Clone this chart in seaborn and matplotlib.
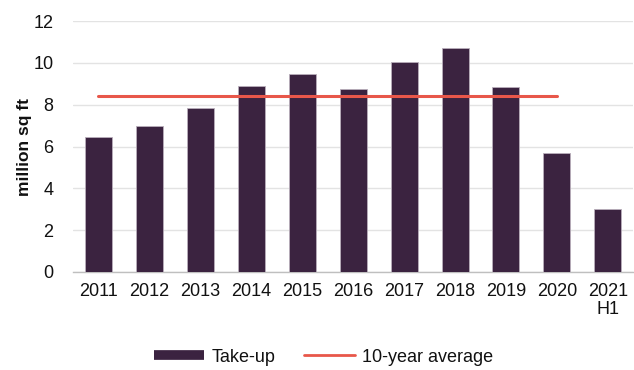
import matplotlib
matplotlib.use("Agg")
import matplotlib.pyplot as plt
import seaborn as sns
import numpy as np
import pandas as pd
from matplotlib.lines import Line2D

categories = ["2011", "2012", "2013", "2014", "2015", "2016", "2017", "2018", "2019", "2020", "2021\nH1"]
take_up = [6.46, 6.98, 7.85, 8.9, 9.48, 8.75, 10.05, 10.72, 8.85, 5.68, 3.0]
avg_value = 8.43
avg_categories = categories[:10]
y_ticks = [0, 2, 4, 6, 8, 10, 12]

bar_color = "#3B2340"
line_color = "#E8574A"
fs = 13

sns.set_theme(style="white")
plt.rcParams["font.family"] = ["Liberation Sans", "DejaVu Sans"]

fig = plt.figure(figsize=(6.34, 3.70), dpi=100)
ax = fig.add_axes([0.115, 0.265, 0.884, 0.678])

df = pd.DataFrame({"year": categories, "value": take_up})
sns.barplot(data=df, x="year", y="value", color=bar_color, saturation=1,
            width=0.53, edgecolor="#b9aebb", linewidth=0.6, ax=ax, zorder=3)

avg_df = pd.DataFrame({"pos": np.arange(len(avg_categories)), "avg": [avg_value] * len(avg_categories)})
sns.lineplot(data=avg_df, x="pos", y="avg", color=line_color, linewidth=2.2, ax=ax, zorder=4)

ax.set_ylim(0, 12)
ax.set_xlim(-0.5, len(categories) - 0.5)
ax.set_yticks(y_ticks)
ax.set_yticklabels([str(t) for t in y_ticks], fontsize=fs, color="#111111")
ax.set_xticks(np.arange(len(categories)))
ax.set_xticklabels(categories, fontsize=fs, color="#111111", linespacing=1.1)
ax.tick_params(axis="x", length=0, pad=8)
ax.tick_params(axis="y", length=0, pad=14)
ax.set_xticks(np.arange(len(categories) + 1) - 0.5, minor=True)
ax.tick_params(axis="x", which="minor", length=4, color="#bfbfbf", width=1)
ax.yaxis.grid(True, color="#e3e3e3", linewidth=1, zorder=0)
ax.set_axisbelow(True)
for s in ["top", "right", "left"]:
    ax.spines[s].set_visible(False)
ax.spines["bottom"].set_color("#bfbfbf")
ax.spines["bottom"].set_linewidth(1)
ax.set_xlabel("")
ax.set_ylabel("million sq ft", fontsize=12.5, fontweight="bold", labelpad=1, color="#111111")

handles = [Line2D([0], [0], color=bar_color, lw=7, solid_capstyle="butt"),
           Line2D([0], [0], color=line_color, lw=2)]
leg = fig.legend(handles, ["Take-up", "10-year average"], loc="center",
                 bbox_to_anchor=(0.51, 0.035), ncol=2, frameon=False,
                 fontsize=fs, handlelength=2.8, columnspacing=1.6, handletextpad=0.4)
for t in leg.get_texts():
    t.set_color("#111111")

fig.savefig("out.png", dpi=100)
